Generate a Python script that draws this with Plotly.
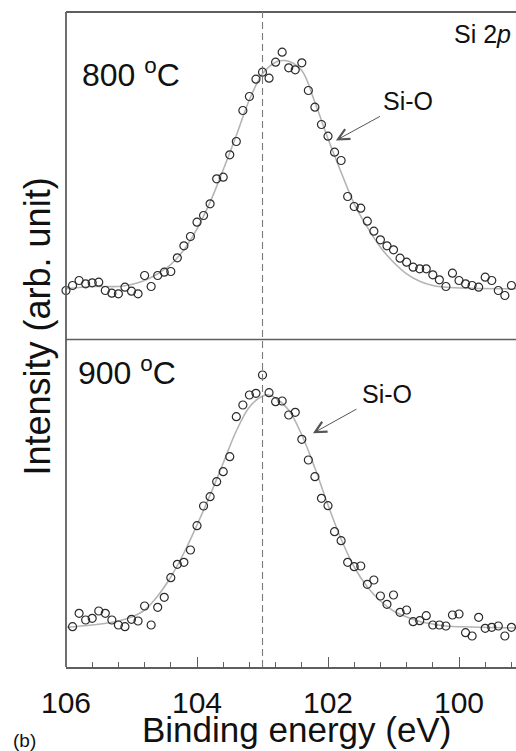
import plotly.graph_objects as go

# Si 2p XPS spectra, arbitrary intensity units
energy_800 = [106.0, 105.9, 105.8, 105.7, 105.6, 105.5, 105.4, 105.3, 105.2, 105.1,
              105.0, 104.9, 104.8, 104.7, 104.6, 104.5, 104.4, 104.3, 104.2, 104.1,
              104.0, 103.9, 103.8, 103.7, 103.6, 103.5, 103.4, 103.3, 103.2, 103.1,
              103.0, 102.9, 102.8, 102.7, 102.6, 102.5, 102.4, 102.3, 102.2, 102.1,
              102.0, 101.9, 101.8, 101.7, 101.6, 101.5, 101.4, 101.3, 101.2, 101.1,
              101.0, 100.9, 100.8, 100.7, 100.6, 100.5, 100.4, 100.3, 100.2, 100.1,
              100.0, 99.9, 99.8, 99.7, 99.6, 99.5, 99.4, 99.3, 99.2, 99.1]
counts_800 = [49, 54, 59, 55.7, 56.7, 57.3, 49, 46.3, 45.7, 52.3,
              48.3, 45.7, 64, 53, 64, 67.3, 68, 81.7, 93.7, 103,
              117.3, 124, 135.7, 160.7, 162.3, 184.7, 198, 229, 243, 260.3,
              267.3, 261.3, 277.3, 287.3, 271.7, 269.7, 276.7, 249, 232.3, 215,
              203.3, 187.3, 179, 143, 133, 131.3, 118.3, 108.3, 99.7, 93.7,
              89.7, 81.3, 77.3, 72.3, 70.7, 70.7, 64.7, 59.7, 53, 66.3,
              59, 55.7, 54, 52.3, 62.3, 59, 49, 44, 54, 50.7]

energy_900 = [105.9, 105.8, 105.7, 105.6, 105.5, 105.4, 105.3, 105.2, 105.1,
              105.0, 104.9, 104.8, 104.7, 104.6, 104.5, 104.4, 104.3, 104.2, 104.1,
              104.0, 103.9, 103.8, 103.7, 103.6, 103.5, 103.4, 103.3, 103.2, 103.1,
              103.0, 102.9, 102.8, 102.7, 102.6, 102.5, 102.4, 102.3, 102.2, 102.1,
              102.0, 101.9, 101.8, 101.7, 101.6, 101.5, 101.4, 101.3, 101.2, 101.1,
              101.0, 100.9, 100.8, 100.7, 100.6, 100.5, 100.4, 100.3, 100.2, 100.1,
              100.0, 99.9, 99.8, 99.7, 99.6, 99.5, 99.4, 99.3, 99.2, 99.1]
counts_900 = [40.3, 53.7, 47, 48.7, 56, 53.7, 47, 42, 40.3, 47.7,
              46, 61, 42, 59.7, 69.7, 89.3, 102.7, 104.7, 117, 141.3,
              161, 170.3, 185.3, 195.3, 210.3, 250.3, 262, 272, 273.7, 292,
              274.3, 265.3, 266, 252, 254.7, 227.7, 207, 190.3, 168.7, 161.3,
              135.3, 126.3, 104.7, 100.3, 101, 82.7, 87, 71, 62.7, 72,
              54.7, 57, 45.3, 46.3, 51.3, 42, 42, 41, 52, 53,
              34.3, 31, 49.7, 38.7, 39.7, 41, 31, 39.7, 30]

# Fitted Si-O envelopes
fit_energy_800 = [106.0, 105.6, 105.2, 105.0, 104.8, 104.6, 104.4, 104.2, 104.0, 103.8,
                  103.6, 103.4, 103.2, 103.0, 102.8, 102.7, 102.6, 102.4, 102.2, 102.0,
                  101.8, 101.6, 101.4, 101.2, 101.0, 100.8, 100.6, 100.4, 100.2, 99.8, 99.1]
fit_counts_800 = [50.7, 53, 53, 55, 59, 65.7, 75, 89.7, 110.7, 137.3,
                  169.7, 204, 239.7, 265.7, 277.3, 279, 278.3, 269, 237.3, 200.7,
                  167.3, 135.7, 112.3, 92.3, 77.3, 65.7, 58.3, 54, 52.3, 51.3, 50.7]

fit_energy_900 = [106.0, 105.6, 105.2, 105.0, 104.8, 104.6, 104.4, 104.2, 104.0, 103.8,
                  103.6, 103.4, 103.2, 103.0, 102.9, 102.8, 102.6, 102.4, 102.2, 102.0,
                  101.8, 101.6, 101.4, 101.2, 101.0, 100.8, 100.6, 100.4, 100.2, 99.8, 99.1]
fit_counts_900 = [39.7, 42, 46, 50, 57, 71, 90, 114, 142, 172,
                  204, 236, 260, 271, 272, 269, 257, 232, 199, 162,
                  128, 100, 80, 66, 56, 50, 45.5, 43, 41, 40, 39]

peak_ref = 103.0
x_range = [106.0, 99.13]
y_range = [0, 327.5]

FONT = "Liberation Sans, Arial, sans-serif"
FRAME = "#5e5e5e"
FIT = "#b4b4b4"
MARK = "#2b2b2b"
INK = "#111111"

fig = go.Figure()

for e, c, fe, fc, ya in [(energy_800, counts_800, fit_energy_800, fit_counts_800, "y2"),
                         (energy_900, counts_900, fit_energy_900, fit_counts_900, "y")]:
    fig.add_trace(go.Scatter(x=fe, y=fc, xaxis="x", yaxis=ya, mode="lines",
                             line=dict(color=FIT, width=1.6, shape="spline", smoothing=1.0),
                             hoverinfo="skip", showlegend=False))
    fig.add_trace(go.Scatter(x=e, y=c, xaxis="x", yaxis=ya, mode="markers",
                             marker=dict(symbol="circle-open", size=8,
                                         line=dict(color=MARK, width=1.2), color=MARK),
                             cliponaxis=False, showlegend=False))

# panel frame: left edge, top edge, divider, reference energy
shapes = [
    dict(type="line", xref="paper", yref="paper", x0=0, x1=0, y0=0, y1=1,
         line=dict(color=FRAME, width=1.8)),
    dict(type="line", xref="paper", yref="paper", x0=0, x1=1, y0=1, y1=1,
         line=dict(color=FRAME, width=1.8)),
    dict(type="line", xref="paper", yref="paper", x0=0, x1=1, y0=0.5, y1=0.5,
         line=dict(color=FRAME, width=1.6)),
    dict(type="line", xref="x", yref="paper", x0=peak_ref, x1=peak_ref, y0=0, y1=1,
         line=dict(color="#7a7a7a", width=1.1, dash="7px,4px")),
]


def px_x(px):
    return (px - 66) / 450.0


def px_y(py):
    return (667 - py) / 655.0


def label(text, cx, cy, size, xanchor="center", **kw):
    d = dict(text=text, x=px_x(cx), y=px_y(cy), xref="paper", yref="paper",
             xanchor=xanchor, yanchor="middle", showarrow=False,
             font=dict(family=FONT, size=size, color=INK))
    d.update(kw)
    return d


annotations = [
    label("800 <sup>o</sup>C", 80, 73, 32, xanchor="left"),
    label("900 <sup>o</sup>C", 76, 371, 32, xanchor="left"),
    label("Si 2<i>p</i>", 482.5, 34, 25),
    label("Si-O", 408, 100.5, 25),
    label("Si-O", 386.7, 394, 25),
    label("Intensity (arb. unit)", 37, 326.5, 36, textangle=-90),
    label("Binding energy (eV)", 296, 729, 35),
    label("(b)", 24, 740, 19),
    dict(text="", x=101.88, y=199, xref="x", yref="y2", ax=45.7, ay=-25,
         showarrow=True, arrowhead=5, arrowsize=2.2, arrowwidth=1.0, arrowcolor="#555",
         standoff=0),
    dict(text="", x=102.23, y=233.7, xref="x", yref="y", ax=45, ay=-25,
         showarrow=True, arrowhead=5, arrowsize=2.2, arrowwidth=1.0, arrowcolor="#555",
         standoff=0),
]

fig.update_layout(
    width=516, height=751,
    margin=dict(l=66, r=0, t=12, b=84),
    paper_bgcolor="white", plot_bgcolor="white",
    showlegend=False,
    xaxis=dict(range=x_range, autorange=False, anchor="y",
               showline=True, linecolor=FRAME, linewidth=1.8,
               ticks="inside", ticklen=10, tickwidth=1.3, tickcolor=FRAME,
               tick0=0, dtick=2, showgrid=False, zeroline=False,
               tickfont=dict(family=FONT, size=30, color=INK),
               ticklabelstandoff=8,
               minor=dict(ticks="inside", ticklen=5, tickwidth=1.1, tickcolor=FRAME,
                          tick0=106, dtick=0.4, showgrid=False)),
    yaxis=dict(domain=[0, 0.5], range=y_range, anchor="x", showticklabels=False,
               showgrid=False, zeroline=False, showline=False, ticks=""),
    yaxis2=dict(domain=[0.5, 1], range=y_range, anchor="x", showticklabels=False,
                showgrid=False, zeroline=False, showline=False, ticks=""),
    shapes=shapes,
    annotations=annotations,
)

fig.write_html("out.html")
